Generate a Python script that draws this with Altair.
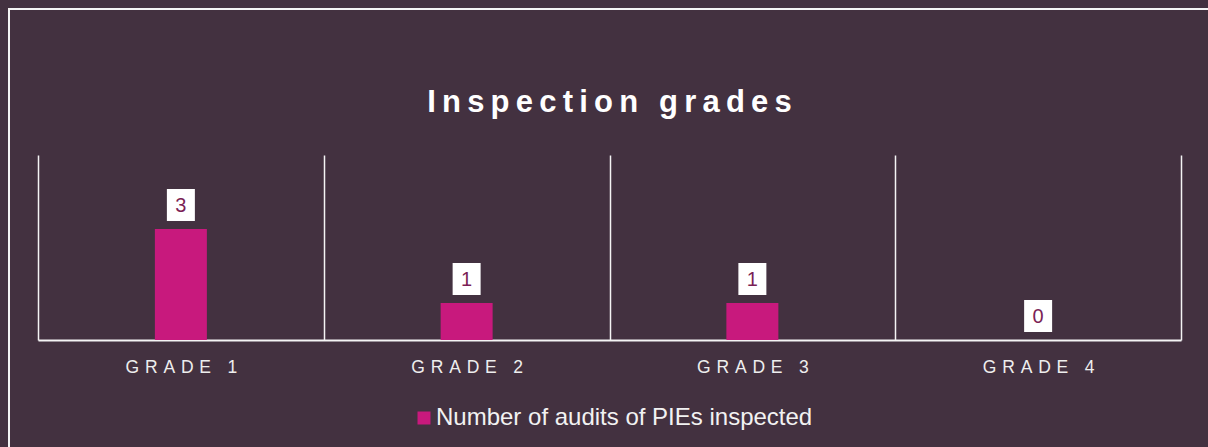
import altair as alt
import pandas as pd

grades = ["GRADE 1", "GRADE 2", "GRADE 3", "GRADE 4"]
audits = [3, 1, 1, 0]
series_name = "Number of audits of PIEs inspected"
title_text = "Inspection grades"

df = pd.DataFrame({"grade": grades, "audits": audits, "series": [series_name] * len(grades)})

BG = "#433140"
BAR = "#c8197d"
LINE = "#f4f4f4"
FONT = "Liberation Sans"
SP_TITLE = "\u2009"
SP_LABEL = "\u2004"

x = alt.X(
    "grade:N",
    sort=grades,
    scale=alt.Scale(paddingInner=0, paddingOuter=0),
    axis=alt.Axis(
        title=None, grid=True, tickBand="extent", ticks=False,
        domainColor=LINE, domainWidth=2, gridColor=LINE, gridWidth=1.5,
        labelColor="#eeeeee", labelFontSize=17.5, labelFont=FONT,
        labelPadding=18, labelAngle=0,
        labelExpr="join(split(datum.label, ''), '" + SP_LABEL + "')",
    ),
)
y = alt.Y("audits:Q", scale=alt.Scale(domain=[0, 5]), axis=None)

frame_df = pd.DataFrame({"k": [0]})
frame = alt.Chart(frame_df).mark_rect(
    color="white", fillOpacity=0, stroke=LINE, strokeWidth=2
).encode(x=alt.value(-29), x2=alt.value(1260), y=alt.value(-146), y2=alt.value(400))

bars = alt.Chart(df).mark_bar(size=52).encode(
    x=x, y=y,
    color=alt.Color(
        "series:N", scale=alt.Scale(range=[BAR]),
        legend=alt.Legend(
            title=None, orient="none", legendX=374, legendY=251,
            symbolType="square", symbolSize=169, symbolStrokeWidth=0,
            labelFontSize=24, labelColor="#f2f2f2", labelFont=FONT,
            labelOffset=0, padding=0, labelLimit=0,
        ),
    ),
)

boxes = alt.Chart(df).mark_bar(size=28, color="white", yOffset=-40, y2Offset=-8).encode(
    x=x, y=y, y2=alt.Y2("audits:Q")
)

labels = alt.Chart(df).mark_text(
    yOffset=-23, baseline="middle", fontSize=20, color="#7b1f56", font=FONT
).encode(x=x, y=y, text="audits:Q")

chart = alt.layer(frame, bars, boxes, labels).properties(
    width=1143, height=185,
    padding={"left": 38, "top": 155, "right": 27, "bottom": 107},
    autosize="none",
    background=BG,
    title=alt.TitleParams(
        SP_TITLE.join(list(title_text)), fontSize=31, font=FONT, fontWeight="bold",
        color="white", anchor="middle", frame="group", offset=0, dy=135,
        baseline="alphabetic",
    ),
).configure_view(strokeWidth=0)

chart.save("out.html", embed_options={"renderer": "svg", "actions": False})
